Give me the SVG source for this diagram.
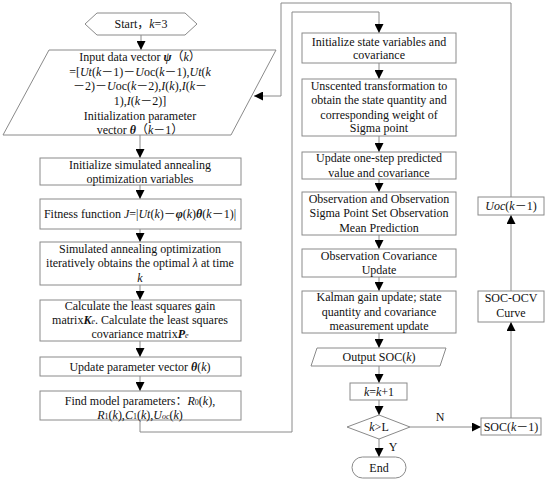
<svg xmlns="http://www.w3.org/2000/svg" width="550" height="488" viewBox="0 0 550 488">
<style>
text{font-family:"Liberation Serif","Noto Sans CJK SC",serif;font-size:12px;fill:#111;text-anchor:middle}
.b{fill:#fff;stroke:#8a8a8a;stroke-width:1}
.c{fill:none;stroke:#8a8a8a;stroke-width:1}
.i{font-style:italic}
.bi{font-style:italic;font-weight:bold}
.s{font-size:8px}
</style>
<defs>
<marker id="ah" markerUnits="userSpaceOnUse" markerWidth="9" markerHeight="9" viewBox="0 0 10 10" refX="10" refY="5" orient="auto">
<path d="M0,0 L10,5 L0,10 z" fill="#000"/>
</marker>
</defs>
<rect width="550" height="488" fill="#fff"/>
<g id="connectors">
<path class="c" marker-end="url(#ah)" d="M141,35 V50"/>
<path class="c" marker-end="url(#ah)" d="M140,135 V158"/>
<path class="c" marker-end="url(#ah)" d="M140,185 V199"/>
<path class="c" marker-end="url(#ah)" d="M140,229 V242"/>
<path class="c" marker-end="url(#ah)" d="M140,285 V300"/>
<path class="c" marker-end="url(#ah)" d="M140,341 V357"/>
<path class="c" marker-end="url(#ah)" d="M140,376 V391"/>
<path class="c" marker-end="url(#ah)" d="M140,420 V432 H292 V12 H379 V33"/>
<path class="c" marker-end="url(#ah)" d="M379,63 V79"/>
<path class="c" marker-end="url(#ah)" d="M379,136 V152"/>
<path class="c" marker-end="url(#ah)" d="M379,179 V192"/>
<path class="c" marker-end="url(#ah)" d="M379,235 V249"/>
<path class="c" marker-end="url(#ah)" d="M379,277 V291"/>
<path class="c" marker-end="url(#ah)" d="M379,333 V348"/>
<path class="c" marker-end="url(#ah)" d="M379,366 V383"/>
<path class="c" marker-end="url(#ah)" d="M379,400 V415"/>
<path class="c" marker-end="url(#ah)" d="M379,439 V457"/>
<path class="c" marker-end="url(#ah)" d="M410,427 H481"/>
<path class="c" marker-end="url(#ah)" d="M511,418 V322"/>
<path class="c" marker-end="url(#ah)" d="M511,291 V215"/>
<path class="c" marker-end="url(#ah)" d="M511,197 V3 H281 V96 H254"/>
<text x="440" y="421">N</text>
<text x="393" y="451">Y</text>
</g>
<g id="start">
<polygon class="b" points="85,24 97,13 185,13 197,24 185,35 97,35"/>
<text x="141" y="28">Start，<tspan class="i">k</tspan>=3</text>
</g>
<g id="input">
<polygon class="b" points="49,50 276,50 231,135 3,135"/>
<text x="140" y="61">Input data vector <tspan class="bi">ψ</tspan>（<tspan class="i">k</tspan>）</text>
<text x="140" y="76">=[<tspan class="i">Ut</tspan>(<tspan class="i">k</tspan>－1)－<tspan class="i">U</tspan>oc(<tspan class="i">k</tspan>－1),<tspan class="i">Ut</tspan>(<tspan class="i">k</tspan></text>
<text x="140" y="90">－2)－<tspan class="i">U</tspan>oc(<tspan class="i">k</tspan>－2),<tspan class="i">I</tspan>(<tspan class="i">k</tspan>),<tspan class="i">I</tspan>(<tspan class="i">k</tspan>－</text>
<text x="140" y="105">1),<tspan class="i">I</tspan>(<tspan class="i">k</tspan>－2)]</text>
<text x="140" y="120">Initialization parameter</text>
<text x="140" y="134">vector <tspan class="bi">θ</tspan>（<tspan class="i">k</tspan>－1）</text>
</g>
<g id="init-sa">
<rect class="b" x="40" y="158" width="201" height="27"/>
<text x="140" y="169">Initialize simulated annealing</text>
<text x="140" y="183">optimization variables</text>
</g>
<g id="fitness">
<rect class="b" x="40" y="199" width="201" height="30"/>
<text x="140" y="218">Fitness function <tspan class="i">J</tspan>=|<tspan class="i">Ut</tspan>(<tspan class="i">k</tspan>)－<tspan class="bi">φ</tspan>(<tspan class="i">k</tspan>)<tspan class="bi">θ</tspan>(<tspan class="i">k</tspan>－1)|</text>
</g>
<g id="sa-opt">
<rect class="b" x="40" y="242" width="201" height="43"/>
<text x="140" y="253">Simulated annealing optimization</text>
<text x="140" y="267">iteratively obtains the optimal <tspan class="i">λ</tspan> at time</text>
<text x="140" y="282" class="i">k</text>
</g>
<g id="lsq">
<rect class="b" x="40" y="300" width="201" height="41"/>
<text x="140" y="310">Calculate the least squares gain</text>
<text x="140" y="324">matrix<tspan class="bi">K</tspan><tspan class="i s">e</tspan>. Calculate the least squares</text>
<text x="140" y="338">covariance matrix<tspan class="bi">P</tspan><tspan class="i s">e</tspan></text>
</g>
<g id="update-theta">
<rect class="b" x="40" y="357" width="201" height="19"/>
<text x="140" y="371">Update parameter vector <tspan class="bi">θ</tspan>(<tspan class="i">k</tspan>)</text>
</g>
<g id="find-params">
<rect class="b" x="40" y="391" width="201" height="29"/>
<text x="140" y="405">Find model parameters：<tspan class="i">R</tspan><tspan class="s">0</tspan>(<tspan class="i">k</tspan>),</text>
<text x="140" y="419"><tspan class="i">R</tspan><tspan class="s">1</tspan>(<tspan class="i">k</tspan>),<tspan class="i">C</tspan><tspan class="s">1</tspan>(<tspan class="i">k</tspan>),<tspan class="i">U</tspan><tspan class="s i">oc</tspan>(<tspan class="i">k</tspan>)</text>
</g>
<g id="init-state">
<rect class="b" x="302" y="33" width="154" height="30"/>
<text x="379" y="46">Initialize state variables and</text>
<text x="379" y="59">covariance</text>
</g>
<g id="unscented">
<rect class="b" x="302" y="79" width="154" height="57"/>
<text x="379" y="90">Unscented transformation to</text>
<text x="379" y="104">obtain the state quantity and</text>
<text x="379" y="119">corresponding weight of</text>
<text x="379" y="132">Sigma point</text>
</g>
<g id="predict">
<rect class="b" x="302" y="152" width="154" height="27"/>
<text x="379" y="162">Update one-step predicted</text>
<text x="379" y="177">value and covariance</text>
</g>
<g id="observation">
<rect class="b" x="302" y="192" width="154" height="43"/>
<text x="379" y="203">Observation and Observation</text>
<text x="379" y="217">Sigma Point Set Observation</text>
<text x="379" y="232">Mean Prediction</text>
</g>
<g id="obs-cov">
<rect class="b" x="302" y="249" width="154" height="28"/>
<text x="379" y="260">Observation Covariance</text>
<text x="379" y="274">Update</text>
</g>
<g id="kalman">
<rect class="b" x="302" y="291" width="154" height="42"/>
<text x="379" y="301">Kalman gain update; state</text>
<text x="379" y="316">quantity and covariance</text>
<text x="379" y="330">measurement update</text>
</g>
<g id="output">
<polygon class="b" points="317,348 446,348 440,366 311,366"/>
<text x="379" y="361">Output SOC(<tspan class="i">k</tspan>)</text>
</g>
<g id="increment">
<rect class="b" x="350" y="383" width="57" height="17"/>
<text x="379" y="396"><tspan class="i">k</tspan>=<tspan class="i">k</tspan>+1</text>
</g>
<g id="decision">
<polygon class="b" points="347,427 379,415 410,427 379,439"/>
<text x="379" y="431"><tspan class="i">k</tspan>&gt;L</text>
</g>
<g id="end">
<rect class="b" x="352" y="457" width="54" height="21" rx="10.5"/>
<text x="379" y="472">End</text>
</g>
<g id="soc-prev">
<rect class="b" x="481" y="418" width="60" height="17"/>
<text x="511" y="431">SOC(<tspan class="i">k</tspan>－1)</text>
</g>
<g id="soc-ocv">
<rect class="b" x="478" y="291" width="66" height="31"/>
<text x="511" y="302">SOC-OCV</text>
<text x="511" y="317">Curve</text>
</g>
<g id="uoc">
<rect class="b" x="478" y="197" width="66" height="18"/>
<text x="511" y="210"><tspan class="i">Uoc</tspan>(<tspan class="i">k</tspan>－1)</text>
</g>
</svg>
